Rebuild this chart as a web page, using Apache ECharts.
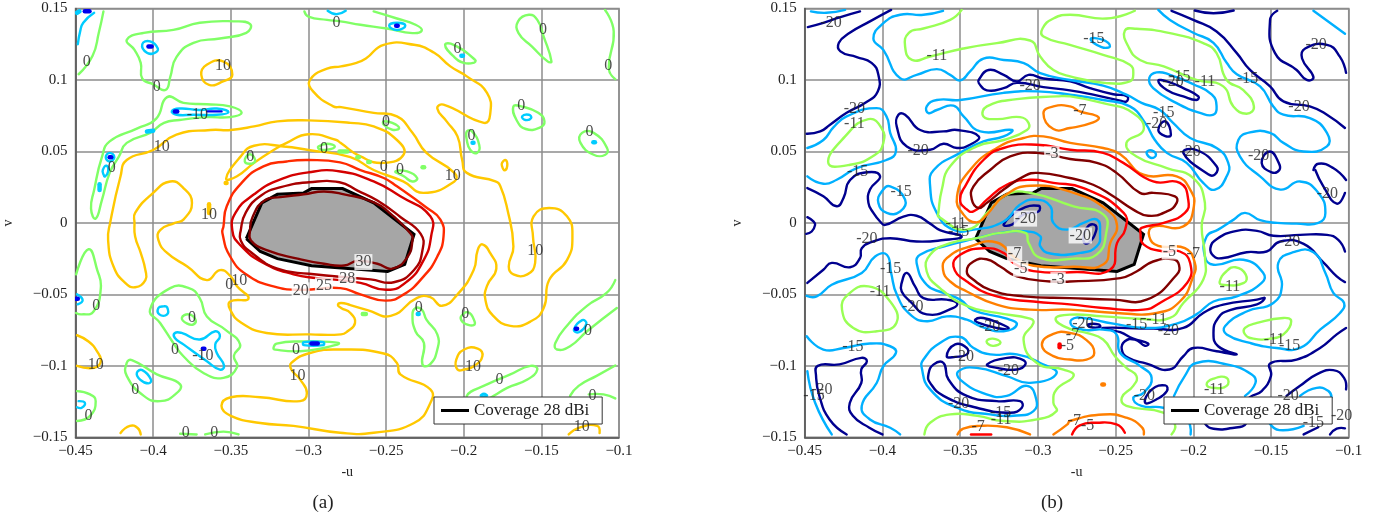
<!DOCTYPE html>
<html><head><meta charset="utf-8">
<style>html,body{margin:0;padding:0;background:#fff}#c{width:1392px;height:518px}</style>
<script src="https://cdn.jsdelivr.net/npm/echarts@6/dist/echarts.min.js"></script>
</head><body><div id="c"></div>
<script>
// All points are [u, v] in thousandths of the axis units.
const loop = p => [...p, p[0]];
const uTicks = [-0.45,-0.4,-0.35,-0.3,-0.25,-0.2,-0.15,-0.1];
const vTicks = [-0.15,-0.1,-0.05,0,0.05,0.1,0.15];
const coverage = loop([[-340,-11],[-330,14],[-320,20],[-303,21],[-298,24],[-278,24],[-258,14],[-232,-8],[-238,-29],[-249,-34],[-298,-30],[-320,-25],[-331,-20]]);

// ---------- panel (a) ----------
const aBlue = [
 [[-444,148],[-441,148]],[[-403,123.5],[-401,123.5]],[[-386,78],[-384.5,78]],[[-365,78],[-356,78]],[[-428,46],[-427,46]],
 [[-449.5,-53],[-448.5,-53]],[[-368,-88],[-367,-88]],[[-298,-84.4],[-294,-84.4]],[[-243.5,138],[-242.5,138]],[[-127.8,-74],[-127,-74]]
];
const aCyan = [
 [[-438,147],[-445,140],[-447,134],[-448.5,125]],[[-449,147],[-447.5,148]],
 loop([[-407,125],[-402,127],[-397,122],[-399,119],[-404,119]]),
 loop([[-388,78],[-383,80],[-370,79],[-359,80],[-351.5,77.5],[-359,75.7],[-374,75.7],[-385,75.7]]),
 [[-404,64],[-400,64.5]],
 loop([[-428,49],[-425,46],[-428,43],[-430.5,46]]),
 loop([[-432,34],[-432.4,37],[-430,40],[-429,36],[-431,32.5]]),
 [[-434.5,27],[-434.5,23]],
 [[-449,-50],[-445.4,-54],[-448.6,-57]],
 loop([[-393.3,-58.4],[-391,-59],[-391,-64],[-396,-64],[-396.6,-59.5]]),
 loop([[-386,-77],[-381.7,-77],[-370,-81.6],[-360,-75.8],[-357,-79.3],[-360,-85],[-359,-91],[-354.3,-100],[-357,-102.6],[-365.4,-96.8],[-380.5,-85],[-386,-80.5]]),
 loop([[-410.5,-105],[-407,-103],[-401.4,-109.6],[-403,-112.3],[-408.4,-109.6]]),
 [[-448,-124.7],[-444,-125.8],[-446,-129.3],[-449,-129]],
 loop([[-303,-83.5],[-290.4,-83.5],[-290.4,-85.5],[-303,-85.5]]),
 [[-229.6,-63.7],[-229,-63.7]],
 loop([[-248,138],[-243,140],[-237.6,138],[-243,135]]),
 [[-287.6,148.4],[-282,146],[-276,148.4]],
 [[-201.5,117],[-200.5,117]],[[-194.3,56],[-193.7,56]],
 loop([[-162.4,74.5],[-158,75.7],[-156.6,73.3],[-160.3,72]]),
 [[-116.5,56.5],[-115.5,56.5]],
 loop([[-129,-74.7],[-123.7,-68],[-121,-70.5],[-125.8,-76.5]]),
 loop([[-189,-121],[-187,-119.5],[-185,-121]])
];
const aGreen = [
 [[-432,148],[-435,133],[-439,117],[-448,104]],
 loop([[-417,128],[-406,133],[-387,135],[-370,140],[-348,141],[-337.5,139],[-340,133],[-357,129],[-374,126],[-385,116],[-389,102],[-392,93],[-400,97],[-407,101],[-408,112],[-412,121]]),
 loop([[-437,3],[-440,10],[-438,23],[-433,46],[-428,57],[-410.5,66],[-398,73],[-391,88],[-380.5,84],[-365.5,83],[-350.5,81.5],[-343,77],[-350.5,74],[-365.5,74],[-383,72],[-393,70],[-402,63],[-417,56],[-422,46.5],[-428,35],[-433,16]]),
 [[-449.6,-36],[-441.6,-18.4],[-436,-33],[-433.7,-45.6],[-438.4,-62],[-446,-64],[-449.6,-63]],
 loop([[-402,-60.7],[-389,-45.6],[-377,-45.6],[-370,-52.6],[-365.4,-65.4],[-353.6,-74.7],[-344,-85],[-348,-93],[-346,-101],[-354.7,-108.4],[-367.6,-105],[-380.5,-93.3],[-387,-84],[-395.5,-70]]),
 loop([[-381.5,-66.5],[-377,-64],[-372.8,-67.6],[-374,-71],[-378,-70.5]]),
 loop([[-417,-98],[-413.7,-96],[-397.6,-106],[-382.6,-113],[-385.8,-120],[-395.5,-124.7],[-406,-121],[-417,-107]]),
 [[-449,-117.7],[-440.6,-120],[-437,-124.7],[-440.6,-135],[-449,-138.6]],
 [[-382.6,-147.5],[-372,-148]],[[-366.5,-148],[-354.7,-146],[-345,-148]],
 loop([[-322.5,-87.5],[-320.5,-84.5],[-305.4,-83],[-280.7,-84],[-290.4,-87.5],[-305.4,-89.8],[-321.4,-88.7]]),
 [[-265,-63.7],[-263,-63.7]],
 loop([[-233,-64],[-231,-59.6],[-227,-60.7],[-224,-67.7],[-217,-78],[-217,-88.6],[-221.7,-99],[-226.6,-99],[-225.6,-84],[-231,-76]]),
 loop([[-201.7,-65.4],[-197,-62.6],[-193,-69],[-193.6,-71.6],[-198,-71],[-201,-69]]),
 loop([[-198,-121],[-185,-113],[-170,-106],[-157,-100],[-152.6,-102.6],[-159,-109.6],[-172,-115.4],[-180.7,-121],[-190,-126]]),
 [[-102.4,-40],[-108,-49],[-120.6,-58],[-133.5,-72],[-141,-84],[-140,-88.6],[-131.5,-86.3],[-120.6,-75.8],[-101.4,-59.5]],
 [[-102.4,-99.8],[-114.4,-107],[-126,-114],[-131.5,-121]],
 [[-119.5,-120],[-110,-120],[-102.4,-122.8]],
 [[-258,148],[-243,143],[-231,138.6],[-227,134.6],[-233,132.8],[-249.4,136],[-266.5,138.6],[-279.4,141],[-288,142],[-300,144.4],[-302.6,148]],
 loop([[-212,124.6],[-206.5,124.6],[-192.6,114],[-193.6,112],[-200,112],[-206.5,116.5]]),
 loop([[-158,145.6],[-152.6,142],[-148.5,130.4],[-143.5,113],[-146,113],[-156,123.4],[-164.7,132.8],[-165,141]]),
 [[-109,149],[-103.4,134],[-106.6,108],[-102.4,100.6]],
 loop([[-251.5,71],[-246,70],[-241.6,66.4],[-246,65.2],[-251.5,68.7]]),
 loop([[-198,64],[-194.6,64],[-190,54.5],[-191.4,49],[-195.7,51],[-198,58]]),
 loop([[-168,81.5],[-163,81.5],[-152,77],[-148,71],[-151,66.7],[-160,65.7],[-166,72]]),
 loop([[-123.8,63],[-116.3,63],[-107.7,52.4],[-108.8,47.7],[-116.3,47.7],[-124.8,56]]),
 loop([[-244,36],[-236.4,36],[-230,31.4],[-233,29],[-238.6,32.6]]),
 [[-280,50],[-275,50]],[[-268.5,46],[-267.5,46]],[[-261.5,42.6],[-260.5,42.6]],[[-226.5,39],[-225.5,39]],
 loop([[-293.6,53.5],[-288,55.4],[-283,53.5],[-288,51.2],[-293,51.7]]),
 loop([[-341,43],[-338,48],[-334.3,44],[-336.5,41.5]])
];
const aYellow = [
 loop([[-353,31],[-344,46],[-335,54],[-316,53.5],[-300,51],[-273,46],[-258,37],[-239,29],[-226,21],[-206,29],[-206,35],[-224,49],[-233,63],[-243,74.5],[-258,77],[-279,81],[-284,81.5],[-297,92],[-299,100],[-288,108],[-279,109.5],[-269,112],[-263,115],[-251.5,124.6],[-232,124.6],[-219,119],[-208.6,109.5],[-198,102.5],[-185,91],[-183,75.7],[-187,70],[-213,82.7],[-217,80],[-211,71],[-204,60.5],[-201,44],[-198,35],[-179.6,29],[-176.4,25.6],[-172,10],[-168,-16.5],[-171,-30.5],[-168,-36],[-159,-36],[-154,-28],[-155.4,-9.5],[-155,4.6],[-145,10.4],[-133.5,4.6],[-130,-9.5],[-133.5,-26],[-145,-40],[-148.5,-59.5],[-157,-69],[-170,-72],[-181,-65],[-186,-54],[-185,-44],[-179,-32],[-183,-21],[-188,-15],[-191,-19],[-193.6,-33],[-204,-50],[-214,-58],[-221.5,-52],[-230,-52.5],[-247,-65],[-262,-61],[-273,-57.5],[-279,-56],[-281,-57.5],[-279,-59.5],[-273,-63],[-270,-70],[-275,-76],[-279,-78],[-299,-78],[-327,-77],[-343,-70],[-350.4,-60.7],[-350.4,-55],[-338.6,-53],[-346,-44.4],[-350,-37.5],[-357,-33],[-365.4,-40],[-378,-30.5],[-391,-21],[-396.6,-12],[-395.5,-5],[-386,0],[-380.5,2.3],[-375,14],[-380.5,24.4],[-389,29],[-400,21],[-411.6,7],[-412,0],[-411.6,-9.5],[-408,-21],[-405,-33],[-405,-40],[-411.6,-45],[-418,-42],[-425.5,-30.5],[-429,-12],[-427.7,0],[-421,32.6],[-417,44],[-400,51],[-385,61.7],[-363,65],[-350,65],[-335,67.5],[-320,71],[-300,71.7],[-273,70],[-258,67.5],[-243,58],[-238.6,48],[-251.5,42],[-266.5,46.5],[-279.4,56],[-282,58],[-300,62],[-314,56],[-322.5,51],[-335,42],[-346,32.6]]),
 loop([[-355,113],[-365.5,110.6],[-369,103.6],[-364,96.6],[-355,99],[-349,103.6]]),
 [[-353.3,28],[-352.7,28]],[[-364,13],[-364,7]],
 loop([[-175.3,42],[-173,44],[-172,39.7],[-173.8,36.8],[-175.3,39.7]]),
 loop([[-279.6,-146.8],[-309.6,-142],[-331,-140],[-350,-135],[-356,-128],[-350,-122],[-331,-122],[-305.4,-124.7],[-301,-119],[-305.4,-109.5],[-311,-102.6],[-311,-98],[-299,-91],[-279.6,-88.6],[-251.5,-91.4],[-243,-98],[-240.8,-106],[-221.5,-116.5],[-221.5,-126],[-232,-140],[-258,-146.8]]),
 [[-449,-78.6],[-441.6,-83],[-436,-90],[-433.7,-97],[-438,-101.4],[-449,-100]],
 [[-421,-147],[-415,-142],[-410,-143.5],[-408,-148]],
 loop([[-204,-102.6],[-204.8,-95.6],[-199.7,-88.6],[-191,-88],[-188,-93.3],[-193.6,-100.3],[-199.7,-102.6]]),
 [[-132.4,-148],[-125,-143],[-114,-142],[-112.5,-147]]
];
const aLevel20 = [loop([[-354.7,-2.4],[-352.6,11.6],[-343,28],[-329,39.6],[-314,43],[-300,44],[-279.6,42.3],[-266.5,37],[-251.5,31.4],[-243,25.6],[-223.6,10.4],[-215,2.3],[-213,-9.5],[-217,-23.5],[-225.8,-37.4],[-238.6,-50],[-250.4,-54.4],[-266.5,-50],[-279.4,-45.6],[-305.4,-46.8],[-322.5,-44.4],[-339.7,-36.3],[-350.4,-23.5],[-355.4,-7]])];
const aLevel25 = [loop([[-349,-5.3],[-346.8,7.4],[-335,20],[-320,29.5],[-299.6,35.4],[-279.4,36],[-258,29],[-240.8,18.6],[-221.5,4.6],[-221,-9.5],[-225.8,-26],[-236.5,-41],[-249.4,-46.8],[-266.5,-42],[-279.4,-40],[-294.6,-38.6],[-309.6,-36],[-329,-28],[-344,-15.4]])];
const aLevel28 = [loop([[-343.6,-5.3],[-340.3,7.4],[-330.7,19],[-317.8,25],[-299.6,28.4],[-280,28.4],[-268.4,22.6],[-255.6,15.6],[-240.6,4],[-227.7,-7.7],[-226.6,-19.3],[-232,-33],[-245,-41.5],[-260,-39.5],[-299.6,-35.6],[-320,-32],[-337,-20.5],[-343.6,-12.3]])];
const aLevel30 = [loop([[-337.6,-5.3],[-336,4],[-328.5,15.6],[-318,18],[-303,20],[-290,22],[-277,20],[-257.7,14.4],[-247,6.3],[-234,-7.7],[-233,-12.3],[-236.3,-24],[-246,-32],[-255.6,-28.6],[-268.5,-26.7],[-277,-29.8],[-290,-28.6],[-307,-25],[-326.4,-19.3],[-337,-12.3]])];
const aLabels = [[-442.7,113,'0'],[-397.6,95,'0'],[-355,110,'10'],[-371.5,75.7,'-10'],[-394.4,53,'10'],[-426.6,38.4,'0'],[-337.5,46,'0'],[-364,6,'10'],[-290,52,'0'],[-282,140,'0'],[-204,122,'0'],[-149,135,'0'],[-107,110,'0'],[-163,82,'0'],[-250,71,'0'],[-195,61,'0'],[-119,64,'0'],[-251.5,39,'0'],[-241,37,'0'],[-207,33,'10'],[-436.7,-58,'0'],[-351,-43,'0'],[-344.6,-40.5,'10'],[-375,-66.5,'0'],[-386,-88.6,'0'],[-368,-93,'-10'],[-437,-99,'10'],[-411.6,-117,'0'],[-441.6,-135,'0'],[-379,-147,'0'],[-360.7,-147,'0'],[-308,-88.6,'0'],[-307,-107,'10'],[-229,-59.5,'0'],[-199,-63.7,'0'],[-154,-19.5,'10'],[-120,-75.4,'0'],[-194,-101,'10'],[-177,-110,'0'],[-117,-120.7,'0'],[-124,-142.6,'10']];
const aBoxedLabels = [[-305,-47.2,'20'],[-290,-43.7,'25'],[-275,-39,'28'],[-264.6,-27.4,'30']];

// ---------- panel (b) ----------
const bNavy = [
 [[-448,137],[-438,140],[-427,144],[-414.4,148]],
 [[-394.4,149],[-408,141],[-421,133],[-428,126],[-427,120],[-416.5,116],[-407,112],[-402.6,103.6],[-403,92],[-411,84],[-423,77],[-433.7,68.7],[-440,64],[-448.7,62.4]],
 loop([[-389.7,75.7],[-385.4,75.7],[-375.7,65],[-360.7,64],[-352,65],[-338,60.5],[-343.6,54.7],[-352,52.4],[-360.7,55.4],[-369.3,51.2],[-384.3,53.5],[-390.8,67.5]]),
 loop([[-338,100.2],[-331.7,107],[-322,103.6],[-313.5,99],[-306,103.6],[-296.4,101],[-279.2,99],[-266.5,94.3],[-251.5,90],[-242.5,88.5],[-243,85],[-247,85.5],[-264.4,89.7],[-279.4,92.7],[-296.4,95],[-313.5,98],[-322,94.3],[-332.8,92.7],[-338,97.8]]),
 [[-448.3,24.4],[-438,18.6],[-429.4,11.6],[-425,17.5],[-420.8,30],[-410,35.4],[-401.5,32.6],[-408,23.3],[-409,14],[-405.8,7],[-401.5,1],[-398.3,-1.4],[-386.5,4.4],[-378,5],[-369.3,-0.5],[-363,-5],[-349,-9.5],[-360.7,-12],[-378,-13],[-395,-10.7],[-405.8,-13],[-413.3,-17.7],[-414.4,-24.7],[-420.8,-31],[-432.6,-28],[-438,-32.8],[-448.3,-42]],
 [[-448.3,4],[-444.4,1],[-443.3,-1.4],[-445.5,-6],[-449,-7.7]],
 loop([[-322,-1],[-311.4,9.3],[-299.6,12],[-299.6,8],[-309.3,6],[-316.7,-1.2]]),
 loop([[-270.6,-13],[-268.5,-3.5],[-263.7,-1.2],[-262.6,-5.8],[-267.4,-14]]),
 loop([[-154,-52.6],[-159,-53.7],[-180.7,-57.2],[-193.6,-63],[-206.4,-73.5],[-225.7,-74],[-258,-73.5],[-247,-76.5],[-238.6,-81],[-229,-84.4],[-231,-86],[-237.6,-81.6],[-244,-82.8],[-246,-88.6],[-241.8,-94.4],[-230,-98.4],[-215.4,-102.6],[-206.4,-93.3],[-200,-87.5],[-185,-89.8],[-172,-92],[-184,-86.3],[-187,-77],[-184,-66.5],[-176.4,-61],[-159,-57]]),
 [[-102.4,-20],[-106.7,-11.9],[-114,-8.4],[-131.3,-8.4],[-148.5,-9],[-159,-5.6],[-172,-5.6],[-185,-11.4],[-189,-17.7],[-187,-23],[-181.8,-24.7],[-165.7,-20.5],[-152.8,-20],[-144,-13],[-129,-14.7],[-116,-28],[-107.7,-37.4],[-102.4,-41.4]],
 [[-101.7,-73.5],[-107.7,-78],[-118.4,-87.5],[-133.5,-95.6],[-150.6,-98.4],[-150,-107],[-156,-117.7],[-163.5,-122],[-170,-130],[-165.7,-139.8],[-176.4,-143.7],[-187,-144],[-192,-141],[-195,-134]],
 [[-140,-121],[-131.3,-114],[-120.6,-106],[-110,-103],[-103,-108.4],[-101.7,-116.5]],
 [[-129,-148],[-119.6,-143]],[[-112,-148],[-107.7,-144],[-102.4,-143.7]],
 loop([[-222.5,99.4],[-217,99],[-206.4,94.3],[-196.7,88.5],[-198,86],[-206.4,88.5],[-217,93]]),
 loop([[-222.5,65],[-218,71],[-214.4,61.7],[-218,60.7]]),
 loop([[-206.4,49],[-198,51],[-185,39.6],[-186,34],[-190.4,34]]),
 [[-214,148.4],[-200,142],[-185,133.9],[-172,118.8],[-163.5,107],[-150.6,95.5],[-142,85],[-125,81.5],[-114,75.7],[-102.4,66.4]],
 [[-199,148.6],[-187,146.7],[-174,148.6]],
 [[-146,148.4],[-150.6,142],[-147.4,118.8],[-133.5,107],[-127,100],[-122.7,102],[-130,115],[-128,122],[-114,124.6],[-105.8,116.5],[-101.7,105]],
 loop([[-156,42],[-150.6,50],[-145,42],[-144.6,37],[-149.6,35.4]]),
 [[-122.7,37],[-119.5,41.4],[-110,38.4],[-101.7,30]],
 [[-121.5,37],[-116.3,25.6],[-107.7,13.5],[-102.4,21]],
 loop([[-387.6,-42],[-384.3,-35],[-379,-44.4],[-373.6,-52.6],[-358.6,-53.7],[-352,-56],[-354.3,-59.5],[-371.5,-64],[-382,-55],[-387.6,-48]]),
 loop([[-340.3,-67.7],[-335,-66.5],[-324.2,-70.5],[-318.8,-74],[-326.4,-73.5],[-338,-70]]),
 loop([[-358.6,-93.3],[-353.2,-85],[-345.7,-87.5],[-345.7,-92],[-353.2,-93.7]]),
 loop([[-332.6,-99],[-319.8,-94.4],[-310,-95.6],[-308,-99],[-313.5,-102.6],[-326.4,-101.4]]),
 loop([[-370.4,-106],[-367,-99],[-360.7,-98],[-357.5,-109.6],[-345.7,-121],[-326.4,-124.7],[-311.4,-124.7],[-310.3,-129.3],[-317.8,-132.8],[-339.3,-129.3],[-360.7,-121],[-369.3,-111.9]]),
 [[-423,-148],[-434,-137.5],[-440.6,-121],[-442.7,-107],[-441.6,-100],[-427.6,-99],[-413.6,-94.4],[-410,-96.8],[-413.6,-102.6],[-413.6,-112],[-421,-126],[-419,-135],[-408.4,-143.3],[-400,-148]],
 loop([[-267.6,-71],[-261,-71],[-260,-72.8],[-266.5,-72.8]]),
 loop([[-231,-125.8],[-226.6,-116.5],[-218,-113.7],[-217,-117.7],[-223.6,-123.4]])
];
const bCyan = [
 [[-446,148],[-436,147],[-424,149]],
 [[-448.7,-51],[-442.3,-51.4],[-432.6,-43.3],[-413.3,-35],[-404.7,-23.5],[-397.2,-22.3],[-394.4,-35],[-390.8,-50],[-382.2,-64],[-371.5,-68.8],[-358.6,-65.4],[-345.7,-67.7],[-336,-72.8],[-322,-75.8],[-313.5,-71],[-320,-67],[-341.4,-61.2],[-350,-53.7],[-360.7,-49],[-371.5,-43.3],[-378,-28],[-375.8,-22.3],[-360.7,-16.5],[-339.3,-10.7],[-324.2,-7],[-309.2,-5.8],[-298.5,-9.3],[-298.5,-16.3],[-292,-21.4],[-272.7,-21],[-262,-16.3],[-260,-7],[-262,2.3],[-270.6,0],[-281.3,-4.7],[-290,0],[-292,11.6],[-301.7,16.3],[-311.4,12.8],[-322,1],[-341.4,-4.7],[-354.5,-4.7],[-365,7],[-369.3,25.6],[-367,37],[-350,49],[-335,57],[-322,60.5],[-316.7,65],[-337,64],[-347.8,74.5],[-354.3,82],[-365,79],[-370.4,76.8],[-371.5,81.5],[-365,86],[-350,86],[-322,91],[-300,92],[-279.2,89.7],[-258,86],[-240.8,81.5],[-231,70],[-224.7,58],[-217,49],[-204.3,42],[-193.6,28],[-186,23.3],[-178.5,32.6],[-177.5,42],[-185,52.4],[-202,59.4],[-213,70],[-221.5,79],[-233.3,84],[-243,89.7],[-258,96],[-279.4,100],[-298.5,104.8],[-309,111.8],[-322,114],[-335,115],[-343.6,106],[-350,99.7],[-356.4,103.6],[-365,107.6],[-378,103.6],[-388.6,101.3],[-399.4,121],[-405.8,129],[-399.4,139.7],[-388.6,145.6],[-373.6,145.6],[-361,148.4]],
 [[-448.3,52.4],[-438,58],[-431.4,67],[-423,74.5],[-403.7,80.3],[-397.4,74.5],[-395,63],[-391.3,50],[-397.4,44],[-416.5,38.4],[-429.4,30.2],[-438,27.4],[-448.3,32.6]],
 loop([[-395,25.6],[-385.4,16.3],[-388.6,8],[-397.2,7],[-402.6,14],[-400.4,22]]),
 [[-448.7,-79.3],[-438,-88.6],[-425,-87.5],[-408,-84.4],[-395,-86.3],[-391.3,-91],[-399.4,-100.3],[-403.7,-112],[-413.3,-128],[-408,-137.5],[-395,-143.3],[-388.6,-148]],
 [[-448.3,-103.7],[-443.3,-125.8],[-432.6,-148]],
 loop([[-350,-79.8],[-363,-84],[-373.6,-95.6],[-374.7,-101.4],[-369.3,-116.5],[-352,-129.3],[-330.7,-134],[-313.5,-134.7],[-302.8,-131.7],[-301,-123.5],[-307,-114],[-320,-121],[-333,-120],[-350,-109.6],[-351,-103.7],[-339.3,-101.4],[-320,-107.2],[-305,-111.9],[-288,-105.4],[-298.5,-98],[-313.5,-92],[-330.7,-92],[-341.4,-87.5]]),
 [[-222.5,149],[-215,142],[-200,133],[-187,126],[-178.5,112],[-172,104],[-157,95.5],[-148.5,81.5],[-142,75.7],[-125,73.3],[-114,63],[-114,53.5],[-129,50],[-142,56],[-150.6,63],[-163.5,63.3],[-171,58],[-170,46.5],[-157,32.6],[-144,23.3],[-131.3,29],[-119.5,21],[-115,7],[-119.5,0],[-133.5,-0.5],[-146,0],[-157,1.9],[-166.7,7],[-174,2.3],[-184,-4.7],[-191.4,-9.5],[-192.5,-23.5],[-187,-29.3],[-167.8,-25.8],[-155,-35],[-156,-42],[-172,-51.4],[-187,-55],[-198,-64],[-210.7,-70.5],[-230,-73.5],[-251.5,-70.5],[-270.8,-66.5],[-278.3,-67.7],[-277.7,-72.3],[-268.7,-75],[-258,-74.7],[-249.4,-78],[-247,-91],[-234.3,-100],[-226.8,-108.4],[-232,-118.9],[-238.6,-122.3],[-233.3,-128],[-219.3,-129.3],[-205,-135],[-202,-142],[-201.7,-148]],
 loop([[-145.3,-28],[-135.6,-20.5],[-122.7,-20.5],[-115,-35],[-109.9,-49],[-103,-56],[-105.6,-63],[-118.4,-74.7],[-131.3,-87.5],[-146.3,-87.5],[-163.5,-84],[-178.5,-78],[-179.6,-72.3],[-165.7,-62],[-148.5,-56],[-143,-44.4]]),
 [[-212.4,-121],[-205.4,-107],[-198,-98],[-178.5,-99],[-162.4,-106],[-160,-112],[-166.7,-121]],
 loop([[-229.6,50],[-226.8,50.7],[-224,47.7],[-226.8,45.4],[-229.6,47.7]]),
 loop([[-266,128.6],[-258,128],[-253.6,123.6],[-259,123]]),
 loop([[-228.3,101.3],[-223.6,105.3],[-215,103.6],[-200,97],[-188,89.7],[-185,81.5],[-187,75.7],[-195.7,77],[-210.7,83.8],[-225.8,94.3]]),
 [[-122.7,148.4],[-102.4,132.3]],
 [[-131.3,-121],[-120.6,-115.4],[-113,-117.7],[-111,-122]],
 [[-151,-140],[-144.6,-145],[-129,-142]]
];
const bGreen = [
 [[-349,149],[-356.4,142],[-373.6,136],[-383,133],[-385.4,123.4],[-381,114],[-369.3,116.4],[-348,122],[-326.4,125.8],[-305,127.6],[-298.5,116.4],[-290,107],[-279.2,102.5],[-255.8,97.8],[-240.8,99],[-238.6,103.6],[-240.8,110.6],[-258,117.6],[-279.4,124.6],[-296.4,130.4],[-297,136],[-290,143],[-279.2,145.6],[-255.8,143],[-237.6,148.4]],
 loop([[-244,134.6],[-236.5,135.8],[-215,132.8],[-193.6,125.8],[-185,118.8],[-178.5,100],[-168,93],[-161,81.5],[-165.7,76.4],[-174.2,81.5],[-180.7,95.5],[-198,100],[-219,109.5],[-234.3,114],[-241.8,123.4]]),
 loop([[-434.8,41.9],[-424,60.5],[-409,72.6],[-400.4,66],[-399.4,56],[-404.7,47.7],[-420.8,40.7]]),
 [[-373,-148],[-369.3,-139.8],[-356.4,-134],[-339,-135],[-322,-138.6],[-300.6,-137.5],[-288,-131.7],[-290,-125.8],[-288,-116.5],[-277,-107],[-283.5,-102.6],[-300.6,-98],[-309.2,-81.6],[-302.8,-70],[-305,-67],[-326.4,-63],[-345.7,-58],[-363,-45.6],[-371.5,-34],[-369.3,-22.3],[-356.4,-14.2],[-339.3,-10.7],[-324.2,-7],[-308,-7],[-306,-14],[-298.5,-24.4],[-277,-25],[-262,-22],[-256,-7],[-257.7,5.8],[-277,11.6],[-305,21],[-320,19.8],[-330.7,9.3],[-345.7,-4.7],[-364,4.4],[-364,7],[-361.8,23.2],[-356.4,39.6],[-339.3,53.5],[-322,58],[-307,65],[-306,70],[-311.4,74],[-326.4,72.6],[-335,74.5],[-332.8,81.5],[-313.5,86.6],[-287.8,88.5],[-279.2,88.5],[-258,83.8],[-238.6,76.8],[-232,65],[-243,56],[-236.5,46.5],[-217,38.4],[-200,31.4],[-192.5,14],[-194.6,-2.4],[-192.5,-23.5],[-193.6,-39.8],[-206.4,-56],[-215,-66.5],[-232,-67.2],[-258,-65.4],[-279.4,-64.2],[-288.6,-67.2],[-279.4,-74.2],[-268.7,-77],[-258,-81.6],[-250.4,-93.3],[-243,-101.4],[-236.5,-107.2],[-238.6,-114],[-246,-122.3],[-243,-128],[-219.3,-132.8],[-211.8,-141],[-214,-148]],
 loop([[-333,-83],[-329,-81],[-324,-83.7],[-329,-86]]),
 loop([[-426,-60.7],[-422,-50],[-409,-44.4],[-395,-55],[-391,-70],[-403.6,-75.8],[-418.7,-73.5]]),
 loop([[-183,-41],[-178.8,-34],[-172.8,-31],[-166.3,-36],[-167.4,-42],[-181.4,-43.3]]),
 loop([[-191.4,-113],[-187,-109],[-178.5,-108.4],[-178.5,-114],[-187,-115.4]]),
 loop([[-166.7,-73.5],[-159,-70],[-142,-66.5],[-137,-68.8],[-142,-78],[-150.6,-81],[-161.4,-81],[-166.7,-78]])
];
const bOrange = [
 loop([[-296.4,76.8],[-290,81.5],[-279.2,81.5],[-273,78],[-261,74],[-264.4,70.3],[-279.4,66.4],[-290,65.7]]),
 loop([[-304.9,26],[-322,18.6],[-332.8,5.8],[-339.3,0.4],[-347.8,5.8],[-352,18.6],[-343.6,37],[-326.4,52.4],[-309.2,59.4],[-296.4,60.5],[-279.2,56],[-258,52.4],[-247,48],[-232,33.7],[-210.7,32.6],[-202,23.3],[-199.6,11.6],[-206.4,-2.4],[-225.8,-2.6],[-228.3,-9.5],[-222.5,-16],[-205.4,-17.7],[-199,-28],[-200,-37.4],[-208.6,-55],[-223.6,-63],[-249.4,-63],[-279.4,-60.7],[-305.4,-60.7],[-326.4,-57.2],[-345.7,-48],[-356.4,-41],[-361,-32.8],[-358.6,-24.7],[-343.6,-16.5],[-326.4,-13.7],[-314.6,-24.4],[-302.8,-30],[-277,-30.7],[-257.7,-29],[-253.4,-14],[-249,-2.3],[-255.6,9.3],[-277,21]]),
 loop([[-297.4,-85],[-290,-77.7],[-279.4,-77],[-268.7,-82],[-263.7,-91],[-268.7,-95.6],[-279.4,-95.6],[-290.4,-93]]),
 [[-258.5,-113],[-257.5,-113]],
 [[-351.7,-148],[-348,-144],[-337.5,-142],[-320,-143],[-305,-148]],
 [[-290,-148],[-281,-141],[-279.4,-138.6],[-258,-134],[-243,-136.3],[-233,-143],[-231.8,-148]]
];
const bRed = [
 loop([[-304.9,30.2],[-320,26.7],[-332.8,16.3],[-341.4,8],[-346.8,10.4],[-350,16.3],[-346.8,25.6],[-335,44],[-322,52.4],[-300.6,54.7],[-279.2,51.2],[-258,49],[-245,42],[-225.8,29],[-208.6,28],[-203.2,16],[-205.4,7],[-219,0],[-233.3,-3.5],[-234,-7],[-232,-15],[-219,-20],[-208.6,-20],[-202,-28],[-204,-42],[-221.5,-56],[-232,-60.7],[-258,-59.5],[-279.4,-57],[-302.8,-55],[-326.4,-51.4],[-345.7,-41],[-354.3,-30.5],[-350,-22.3],[-335,-17.7],[-322,-21],[-315.7,-28],[-302.8,-33.7],[-275,-34.4],[-253.4,-32.6],[-249,-14],[-243.8,-4.7],[-244.8,7],[-270.6,24.4],[-290,28]]),
 [[-286,-85],[-286,-87]],
 [[-343,-148],[-330,-148]],
 [[-278,-148],[-273,-141.6],[-262,-139.8],[-249.4,-141],[-244,-146.8]]
];
const bDark = [
 loop([[-342.5,16.3],[-341.4,25.6],[-330.7,37],[-317.8,46.5],[-300.6,49],[-279.2,44.7],[-262,42],[-249.4,35],[-234.3,21],[-225.8,21],[-211.8,18.6],[-210.7,14],[-217,8],[-229,5],[-238.6,9.3],[-251.5,18.6],[-264.4,26.7],[-279.4,31.4],[-300,35],[-309,32.6],[-322,23.3],[-332.8,14],[-338.3,10.4]]),
 loop([[-345.7,-34],[-341.4,-27],[-333,-25.4],[-324.2,-30.5],[-313.5,-37.4],[-292,-41],[-279.4,-41],[-247,-38.6],[-236.5,-34],[-225.8,-27],[-212.9,-25.4],[-209.2,-29.3],[-210.7,-36.3],[-230,-53.7],[-251.5,-53.7],[-279.4,-52.6],[-309.2,-51.4],[-330.7,-46.8],[-341.4,-39.8]])
];
const bLabels = [[-433,140,'-20'],[-365,117,'-11'],[-305,96,'-20'],[-418,80,'-20'],[-418,69,'-11'],[-377,50.5,'-20'],[-416,36,'-15'],[-388,22,'-15'],[-352.8,-0.5,'-11'],[-351,-6,'-15'],[-264,129,'-15'],[-213,98.5,'-20'],[-208.6,102,'-15'],[-192.5,99,'-11'],[-165,101,'-15'],[-121,124.6,'-20'],[-132,81.5,'-20'],[-219,77,'-15'],[-223.6,69.4,'-20'],[-202,50,'-20'],[-158,47,'-20'],[-113.7,20.6,'-20'],[-273,78.5,'-7'],[-410,-11.4,'-20'],[-394.7,-32,'-15'],[-401.5,-48,'-11'],[-380.5,-59,'-20'],[-331,-72.8,'-20'],[-419,-86.8,'-15'],[-348,-93.7,'-20'],[-319,-103.7,'-20'],[-439,-117,'-20'],[-444,-121,'-15'],[-351,-126.3,'-20'],[-324,-133,'-15'],[-323.6,-138,'-11'],[-338.4,-143,'-7'],[-277.7,-78.6,'-7'],[-281,-86,'-5'],[-276.6,-138.6,'-7'],[-271,-70.5,'-20'],[-200,-21.6,'-7'],[-176.4,-44.4,'-11'],[-138,-13.5,'-20'],[-236.5,-71,'-15'],[-223.6,-68,'-11'],[-216,-75.4,'-20'],[-148,-82,'-11'],[-138,-86,'-15'],[-231.5,-121,'-20'],[-186.5,-116.5,'-11'],[-139,-121,'-20'],[-122.7,-140,'-15'],[-104.5,-135,'-20'],[-268,-142,'-5']];
const bBoxedLabels = [[-308,3,'-20'],[-272.7,-8.8,'-20'],[-291,48,'-3'],[-315,-21.9,'-7'],[-311,-32,'-5'],[-287,-40,'-3'],[-215.4,-20,'-5']];

// ---------- styles ----------
const serif = '"Liberation Serif","DejaVu Serif",serif';
const LW = 2.4;
const panelA = [[aYellow,'#ffc800'],[aGreen,'#80ff66'],[aCyan,'#00ccff'],[aBlue,'#0000ee'],[aLevel20,'#ff2a00'],[aLevel25,'#d40000'],[aLevel28,'#a80000'],[aLevel30,'#800000']];
const panelB = [[bNavy,'#00008f'],[bCyan,'#00b0ff'],[bGreen,'#99ff55'],[bOrange,'#ff7f00'],[bRed,'#ff0000'],[bDark,'#800000']];
const toUV = p => [p[0]/1000, p[1]/1000];
const isBlob = c => c.length === 2 && Math.abs(c[0][0]-c[1][0]) + Math.abs(c[0][1]-c[1][1]) < 7;
const isClosed = c => c.length > 3 && c[0] === c[c.length-1];
const series = [];
// One contour = one custom series: positions come from api.coord, the curve is zrender's smooth polyline.
function contourSeries(i, c, col, z) {
  const closed = isClosed(c);
  const pts = closed ? c.slice(0, -1) : c;
  const width = isBlob(c) ? 4.5 : LW;
  return {type:'custom', xAxisIndex:i, yAxisIndex:i, silent:true, z, clip:true, data:c.map(toUV),
    renderItem:(params, api) => params.dataIndex === 0 ? {
      type: closed ? 'polygon' : 'polyline',
      shape:{points: pts.map(p => api.coord(toUV(p))), smooth:0.5},
      style:{fill:'none', stroke:col, lineWidth:width, lineCap:'round', lineJoin:'round'}} : null};
}
function addPanel(i, groups, labels, boxed) {
  series.push({type:'custom', xAxisIndex:i, yAxisIndex:i, silent:true, z:1, clip:true,
    data: coverage.map(toUV),
    renderItem:(params, api) => params.dataIndex === 0 ? {type:'polygon',
      shape:{points: coverage.map(p => api.coord(toUV(p)))},
      style:{fill:'#a6a6a6'}} : null});
  series.push({type:'line', name:'Coverage 28 dBi', xAxisIndex:i, yAxisIndex:i, z:2, symbol:'none', silent:true,
    data: coverage.map(toUV), lineStyle:{color:'#000', width:3, join:'miter'}, itemStyle:{color:'#000'}});
  groups.forEach(([cs,col]) => cs.forEach(c => series.push(contourSeries(i, c, col, 3))));
  const lab = (arr, extra, z) => series.push({type:'scatter', xAxisIndex:i, yAxisIndex:i, z, silent:true, symbolSize:1,
    itemStyle:{color:'transparent'}, data:arr.map(l => [l[0]/1000, l[1]/1000, l[2]]),
    label:Object.assign({show:true, position:'inside', formatter:p => p.value[2], fontFamily:serif, fontSize:16, color:'#222'}, extra)});
  lab(labels, {}, 5);
  lab(boxed, {backgroundColor:'#fff', padding:[0,1]}, 6);
}
addPanel(0, panelA, aLabels, aBoxedLabels);
addPanel(1, panelB, bLabels, bBoxedLabels);

const tick = v => String(v).replace('-', '\u2212');
const axisCommon = {
  axisTick:{show:false},
  splitLine:{show:true, lineStyle:{color:'#8c8c8c', width:1.5}},
  axisLine:{show:true, onZero:false, lineStyle:{color:'#555', width:1.5}},
  axisLabel:{fontFamily:serif, fontSize:15, color:'#222', formatter:tick, showMinLabel:true, showMaxLabel:true},
  nameTextStyle:{fontFamily:serif, fontSize:14, color:'#222'},
  nameLocation:'middle'
};
const xAxis = i => Object.assign({}, axisCommon, {type:'value', gridIndex:i, min:uTicks[0], max:uTicks[uTicks.length-1], interval:0.05, name:'-u', nameGap:28,
  axisLabel:Object.assign({}, axisCommon.axisLabel, {margin:6})});
const yAxis = i => Object.assign({}, axisCommon, {type:'value', gridIndex:i, min:vTicks[0], max:vTicks[vTicks.length-1], interval:0.05, name:'v', nameGap:60,
  axisLabel:Object.assign({}, axisCommon.axisLabel, {margin:8})});
const legend = left => ({left, top:397, show:true, selectedMode:false, data:[{name:'Coverage 28 dBi', icon:'rect'}], orient:'horizontal',
  backgroundColor:'#fff', borderColor:'#333', borderWidth:1, borderRadius:0, padding:[5,13,5,7],
  itemWidth:28, itemHeight:3, itemGap:0, itemStyle:{color:'#000'}, textStyle:{fontFamily:serif, fontSize:17, color:'#222'}});

const chart = echarts.init(document.getElementById('c'), null, {renderer:'canvas'});
chart.setOption({
  animation:false, backgroundColor:'#fff',
  grid:[
    {left:75.5, width:543.5, top:8.5, height:428.8, show:true, borderColor:'#8c8c8c', borderWidth:1.5, backgroundColor:'#fff'},
    {left:804.7, width:544, top:8.5, height:428.8, show:true, borderColor:'#8c8c8c', borderWidth:1.5, backgroundColor:'#fff'}
  ],
  xAxis:[xAxis(0), xAxis(1)],
  yAxis:[yAxis(0), yAxis(1)],
  legend:[legend(434), legend(1164)],
  title:[
    {text:'(a)', left:318, top:489, textAlign:'center', textStyle:{fontFamily:serif, fontSize:19, fontWeight:'normal', color:'#222'}},
    {text:'(b)', left:1047, top:489, textAlign:'center', textStyle:{fontFamily:serif, fontSize:19, fontWeight:'normal', color:'#222'}}
  ],
  series
});
</script></body></html>
